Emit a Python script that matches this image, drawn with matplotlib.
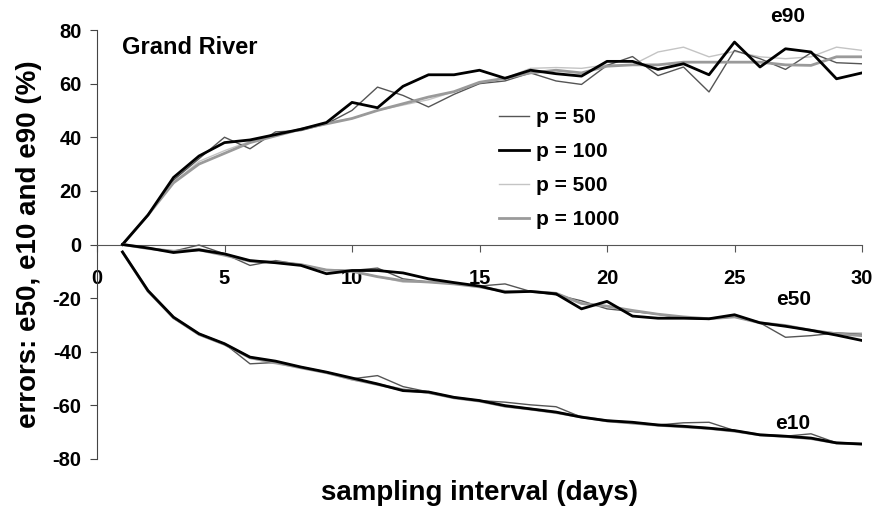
import matplotlib
matplotlib.use("Agg")
import matplotlib.pyplot as plt

plt.rcParams['font.family'] = ['Liberation Sans', 'DejaVu Sans']
plt.rcParams['font.weight'] = 'bold'
plt.rcParams['axes.unicode_minus'] = False

days = list(range(1, 31))
labels = ["p = 50", "p = 100", "p = 500", "p = 1000"]

# e90 curves
e90_p50 = [0, 11, 24, 32, 40, 35.7, 42, 42.5, 45, 50, 58.7, 55.6, 51.3, 56, 60, 61, 64, 61, 59.7, 66.8,
           70.1, 63, 66.2, 56.9, 72.4, 69.3, 65.3, 71.5, 67.8, 67.4]
e90_p100 = [0, 11, 25, 33, 38, 39, 41, 43, 45.5, 53, 51, 59, 63.3, 63.3, 65, 62, 65, 63.7, 62.8, 68.3,
            68.3, 65.3, 67.4, 63.3, 75.5, 66.2, 73, 71.8, 61.8, 64]
e90_p500 = [0, 11, 23, 31, 35, 38.5, 41, 43, 45.5, 47, 50, 52, 54, 57, 60, 62, 65.7, 66, 65.7, 67,
            67, 71.8, 73.6, 70, 72, 70, 69.3, 70, 73.6, 72.4]
e90_p1000 = [0, 11, 23, 30, 34, 38, 40.5, 43, 45, 47, 50, 52.5, 55, 57, 60.5, 62, 64, 65, 64, 66.5,
             67, 67, 68, 68, 68, 68, 67, 66.8, 70, 70]

# e50 curves
e50_p50 = [0, -1.3, -2.5, -0.2, -3.5, -7.8, -6, -7.5, -9.5, -9.7, -8.8, -12.8, -14, -14.5, -15.5, -14.7,
           -17.5, -18.8, -21, -24, -25, -26, -27.5, -27.7, -27, -29.2, -34.6, -34, -33, -33.5]
e50_p100 = [0, -1.3, -3, -2, -3.5, -6, -6.8, -7.8, -10.9, -9.7, -9.7, -10.6, -12.8, -14.2, -15.5, -17.8,
            -17.5, -18.4, -24, -21.2, -26.7, -27.5, -27.5, -27.7, -26.2, -29.2, -30.5, -32, -33.8, -35.8]
e50_p500 = [0, -1.3, -2.5, -1.5, -3.5, -6, -6.5, -7.5, -9.7, -9.7, -12, -14, -14, -14.7, -15.5, -17.8,
            -17.5, -18, -22, -23, -24.6, -26, -27.5, -27.7, -27, -29.2, -30.2, -32, -33, -33]
e50_p1000 = [0, -1.5, -2.5, -2, -4, -6.2, -6.6, -7.5, -9.5, -10, -12, -13.5, -14, -14.7, -15.8, -17.5,
             -17.5, -18.2, -22, -23, -24.6, -26, -27, -27.7, -27, -29.2, -30.2, -32, -33.3, -34]

# e10 curves
e10_p50 = [-2.8, -17.2, -27.5, -33.3, -37, -44.5, -44, -45.7, -47.6, -50.1, -48.9, -53, -55, -57, -58.2,
           -58.8, -59.8, -60.5, -64.4, -65.7, -66.3, -67.3, -66.5, -66.3, -69.4, -71, -71.5, -70.6, -74, -74.4]
e10_p100 = [-2.8, -17.2, -27.1, -33.3, -37, -42, -43.5, -45.7, -47.6, -49.8, -52, -54.5, -55, -57, -58.2,
            -60.1, -61.3, -62.5, -64.4, -65.7, -66.3, -67.3, -67.8, -68.5, -69.4, -71, -71.5, -72.2, -74, -74.4]
e10_p500 = [-2.8, -17.5, -27.5, -33.8, -37.5, -42.5, -44.5, -46, -48, -50.5, -52, -54, -55.5, -57.2, -58.5,
            -60.5, -61.5, -62.8, -64.2, -66, -66.8, -67.5, -68, -68.8, -69.8, -71, -71.8, -72.5, -73.8, -74.6]
e10_p1000 = [-2.8, -17.4, -27.3, -33.5, -37.2, -42.2, -44, -46, -47.8, -50.2, -52.2, -54.2, -55.2, -57.2, -58.4,
             -60.3, -61.4, -62.7, -64.3, -65.8, -66.6, -67.4, -68, -68.6, -69.6, -71, -71.6, -72.4, -74, -74.5]

colors = ["#555555", "#000000", "#c4c4c4", "#9a9a9a"]
widths = [1.0, 2.0, 1.0, 2.0]

fig = plt.figure(figsize=(8.73, 5.12), dpi=100)
ax = fig.add_axes([97/873, 1-459/512, (862-97)/873, (459-30)/512])

groups = [
    [e90_p50, e90_p100, e90_p500, e90_p1000],
    [e50_p50, e50_p100, e50_p500, e50_p1000],
    [e10_p50, e10_p100, e10_p500, e10_p1000],
]
order = [2, 3, 0, 1]  # draw light ones first
for g, series in enumerate(groups):
    for i in order:
        ax.plot(days, series[i], color=colors[i], lw=widths[i],
                label=labels[i] if g == 0 else None, zorder=2 + i % 2)

ax.set_xlim(0, 30)
ax.set_ylim(-80, 80)
ax.set_xticks(range(0, 31, 5))
ax.set_yticks(range(-80, 81, 20))
ax.spines['top'].set_visible(False)
ax.spines['right'].set_visible(False)
ax.spines['bottom'].set_position(('data', 0))
ax.spines['bottom'].set_color('#555555')
ax.spines['left'].set_color('#444444')
ax.tick_params(axis='x', direction='out', length=5, pad=13, labelsize=14.5, color='#555555')
ax.tick_params(axis='y', direction='out', length=5, pad=6, labelsize=14.5, color='#444444')
for t in ax.get_xticklabels() + ax.get_yticklabels():
    t.set_fontweight('bold')

ax.set_ylabel("errors: e50, e10 and e90 (%)", fontsize=20, fontweight='bold', labelpad=8)
fig.text(479.5/873, 1-493/512, "sampling interval (days)", fontsize=20, fontweight='bold',
         ha='center', va='center')

ax.text(1, 73.5, "Grand River", fontsize=17, fontweight='bold', va='center', ha='left')
ax.text(27.1, 85, "e90", fontsize=15, fontweight='bold', ha='center', va='center', clip_on=False)
ax.text(27.3, -20.5, "e50", fontsize=15, fontweight='bold', ha='center', va='center')
ax.text(27.3, -66.8, "e10", fontsize=15, fontweight='bold', ha='center', va='center')

handles, labs = ax.get_legend_handles_labels()
idx = [labs.index(l) for l in labels]
leg = ax.legend([handles[k] for k in idx], [labs[k] for k in idx],
                loc='upper left', bbox_to_anchor=(499/873, 1-108/512),
                bbox_transform=fig.transFigure, frameon=False,
                handlelength=1.45, handletextpad=0.35, labelspacing=0.72,
                borderpad=0, borderaxespad=0, prop={'weight': 'bold', 'size': 15})

fig.savefig("out.png", dpi=100)
